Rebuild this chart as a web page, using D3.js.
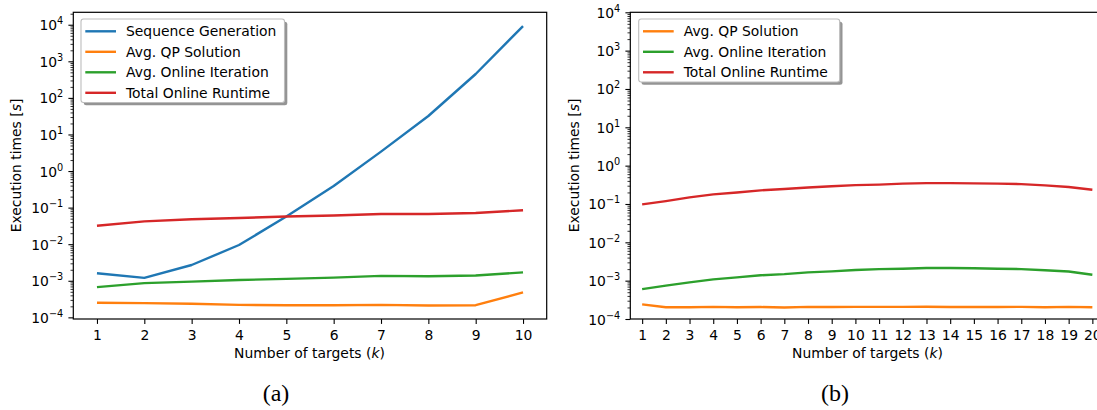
<!DOCTYPE html>
<html><head><meta charset="utf-8">
<script src="https://cdn.jsdelivr.net/npm/d3@7/dist/d3.min.js"></script>
<style>
body{margin:0;background:#fff;}
svg{display:block;font-family:"DejaVu Sans",sans-serif;}
</style></head><body>
<svg id="c" width="1097" height="410"></svg>
<script>
// ---- data ----
const kA = [1,2,3,4,5,6,7,8,9,10];
const seqGenA = [1.6e-3,1.2e-3,2.7e-3,9.5e-3,0.057,0.39,3.4,32,450,9200];
const qpA = [2.5e-4,2.45e-4,2.35e-4,2.2e-4,2.15e-4,2.15e-4,2.2e-4,2.1e-4,2.15e-4,4.8e-4];
const iterA = [6.7e-4,8.6e-4,9.5e-4,1.05e-3,1.13e-3,1.22e-3,1.36e-3,1.33e-3,1.39e-3,1.7e-3];
const totalA = [0.032,0.042,0.048,0.052,0.057,0.061,0.067,0.067,0.071,0.085];

const kB = [1,2,3,4,5,6,7,8,9,10,11,12,13,14,15,16,17,18,19,20];
const qpB = [2.4e-4,2.03e-4,2.03e-4,2.07e-4,2.03e-4,2.05e-4,2.0e-4,2.07e-4,2.05e-4,2.07e-4,2.07e-4,2.07e-4,2.08e-4,2.05e-4,2.05e-4,2.05e-4,2.07e-4,2.03e-4,2.07e-4,2.03e-4];
const iterB = [6.0e-4,7.4e-4,9.0e-4,1.08e-3,1.22e-3,1.38e-3,1.48e-3,1.65e-3,1.75e-3,1.9e-3,2.0e-3,2.05e-3,2.13e-3,2.13e-3,2.1e-3,2.05e-3,2.0e-3,1.87e-3,1.74e-3,1.43e-3];
const totalB = [0.098,0.119,0.149,0.178,0.20,0.227,0.246,0.27,0.29,0.31,0.32,0.34,0.35,0.35,0.345,0.34,0.33,0.306,0.277,0.235];

const namesA = ["Sequence Generation","Avg. QP Solution","Avg. Online Iteration","Total Online Runtime"];
const namesB = ["Avg. QP Solution","Avg. Online Iteration","Total Online Runtime"];
const colors = {"Sequence Generation":"#1f77b4","Avg. QP Solution":"#ff7f0e","Avg. Online Iteration":"#2ca02c","Total Online Runtime":"#d62728"};
const majorExps = [-4,-3,-2,-1,0,1,2,3,4];
const captions = ["(a)","(b)"];

const svg = d3.select("#c");
const FS = 13.9;

function panel(cfg){
  const g = svg.append("g");
  const x = d3.scaleLinear().domain(cfg.xdom).range(cfg.xr);
  const y = d3.scaleLog().domain(cfg.ydom).range([319,12.3]);
  // minor ticks
  const minors=[];
  for(let e=-5;e<=4;e++) for(let m=2;m<=9;m++){const v=m*Math.pow(10,e); if(v>=cfg.ydom[0]&&v<=cfg.ydom[1]) minors.push(v);}
  const yMinor = g.append("g").attr("transform",`translate(${cfg.xr[0]},0)`)
    .call(d3.axisLeft(y).tickValues(minors).tickSize(2.8).tickSizeOuter(0).tickFormat(""));
  yMinor.select(".domain").remove();
  yMinor.selectAll("line").attr("stroke","#000").attr("stroke-width",0.8);
  const majors = majorExps.map(e=>Math.pow(10,e));
  const yMajor = g.append("g").attr("transform",`translate(${cfg.xr[0]},0)`)
    .call(d3.axisLeft(y).tickValues(majors).tickSize(4.9).tickSizeOuter(0).tickPadding(5));
  yMajor.select(".domain").remove();
  yMajor.selectAll("line").attr("stroke","#000").attr("stroke-width",1.1);
  yMajor.selectAll("text").each(function(d){
    const t=d3.select(this); const e=Math.round(Math.log10(d));
    t.text(null).attr("font-size",FS).attr("font-family","DejaVu Sans").attr("fill","#000")
     .attr("dy",null).attr("y",5).attr("x",-10);
    t.append("tspan").text("10");
    t.append("tspan").attr("font-size",FS*0.7).attr("dy",-6).text(e<0?"\u2212"+(-e):String(e));
  });
  // x axis
  const xAx = g.append("g").attr("transform","translate(0,319)")
    .call(d3.axisBottom(x).tickValues(cfg.k).tickSize(4.9).tickSizeOuter(0).tickPadding(5).tickFormat(d3.format("d")));
  xAx.select(".domain").remove();
  xAx.selectAll("line").attr("stroke","#000").attr("stroke-width",1.1);
  xAx.selectAll("text").attr("font-size",FS).attr("font-family","DejaVu Sans").attr("fill","#000").attr("dy",null).attr("y",21);
  // lines
  const line = d3.line().x((d,i)=>x(cfg.k[i])).y(d=>y(d));
  cfg.series.forEach(s=>{
    g.append("path").datum(s.values).attr("d",line).attr("fill","none")
      .attr("stroke",colors[s.name]).attr("stroke-width",2.4).attr("stroke-linejoin","round").attr("stroke-linecap","butt");
  });
  // frame
  g.append("rect").attr("x",cfg.xr[0]).attr("y",12.3).attr("width",cfg.xr[1]-cfg.xr[0]).attr("height",319-12.3)
    .attr("fill","none").attr("stroke","#000").attr("stroke-width",1.2);
  // labels
  const yl = g.append("text").attr("transform",`translate(${cfg.ylx},165.5) rotate(-90)`)
    .attr("text-anchor","middle").attr("font-size",FS).attr("fill","#000");
  yl.append("tspan").text("Execution times [");
  yl.append("tspan").attr("font-style","italic").text("s");
  yl.append("tspan").text("]");
  const xl = g.append("text").attr("x",cfg.xlx).attr("y",358).attr("text-anchor","middle").attr("font-size",FS).attr("fill","#000");
  xl.append("tspan").text("Number of targets (");
  xl.append("tspan").attr("font-style","italic").text("k");
  xl.append("tspan").text(")");
  // legend
  const L = cfg.leg; const n = cfg.series.length;
  const h = 24 + (n-1)*20.5 - 3 + 1;
  const lg = g.append("g");
  lg.append("rect").attr("x",L.x+2.8).attr("y",19+2.8).attr("width",L.w).attr("height",h).attr("rx",2.5)
    .attr("fill","#4d4d4d").attr("opacity",0.6);
  lg.append("rect").attr("x",L.x).attr("y",19).attr("width",L.w).attr("height",h).attr("rx",2.5)
    .attr("fill","#fff").attr("stroke","#bdbdbd").attr("stroke-width",1.1);
  cfg.series.forEach((s,i)=>{
    const yy = 31.3 + i*20.5;
    lg.append("line").attr("x1",L.x+4.3).attr("x2",L.x+35).attr("y1",yy).attr("y2",yy)
      .attr("stroke",colors[s.name]).attr("stroke-width",2.4);
    lg.append("text").attr("x",L.x+45).attr("y",yy+5).attr("font-size",FS).attr("fill","#000").text(s.name);
  });
  // caption
  svg.append("text").attr("x",cfg.capx).attr("y",401).attr("text-anchor","middle")
    .attr("font-family","Liberation Serif, DejaVu Serif, serif").attr("font-size",24).attr("fill","#000").text(cfg.cap);
}

panel({k:kA, xdom:[0.5,10.5], xr:[73.3,546.7], ydom:[Math.pow(10,-4.045),Math.pow(10,4.34)],
  series:[{name:namesA[0],values:seqGenA},{name:namesA[1],values:qpA},{name:namesA[2],values:iterA},{name:namesA[3],values:totalA}],
  ylx:20.5, xlx:309.5, leg:{x:81,w:203.5}, cap:captions[0], capx:276});
panel({k:kB, xdom:[0.5,20.5], xr:[630.3,1104.2], ydom:[1e-4,1e4],
  series:[{name:namesB[0],values:qpB},{name:namesB[1],values:iterB},{name:namesB[2],values:totalB}],
  ylx:579, xlx:867.5, leg:{x:638.7,w:201}, cap:captions[1], capx:835});
</script>
</body></html>
